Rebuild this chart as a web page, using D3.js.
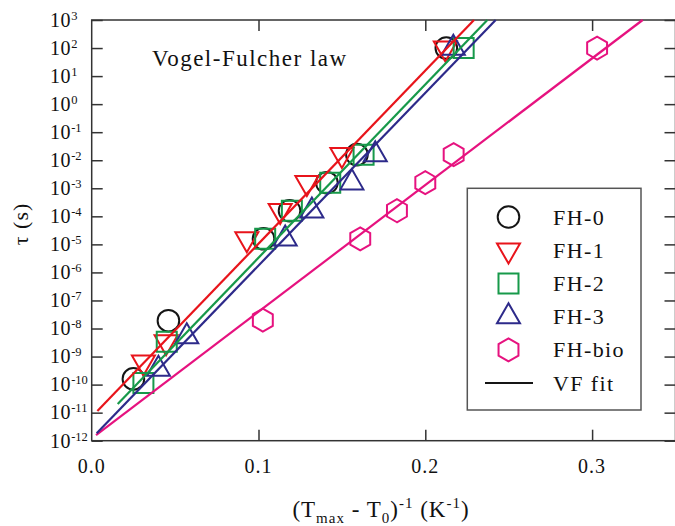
<!DOCTYPE html>
<html><head><meta charset="utf-8">
<script src="https://cdn.jsdelivr.net/npm/d3@7"></script>
<style>
body{margin:0;background:#fff;}
svg{display:block;font-family:"Liberation Serif","Times New Roman",serif;}
</style></head>
<body><svg id="c" width="675" height="526"></svg>
<script>
// ---- data ----
const seriesNames = ["FH-0", "FH-1", "FH-2", "FH-3", "FH-bio"];
const fh0X   = [0.0250, 0.0460, 0.1030, 0.1186, 0.1410, 0.1590, 0.2126];
const fh0Tau = [1.6e-10, 1.9e-8, 1.58e-5, 1.58e-4, 1.58e-3, 1.58e-2, 100];
const fh1X   = [0.0310, 0.0446, 0.0930, 0.1130, 0.1290, 0.1500, 0.2120];
const fh1Tau = [6.3e-10, 3.3e-9, 1.58e-5, 1.58e-4, 1.58e-3, 1.58e-2, 100];
const fh2X   = [0.0310, 0.0450, 0.1040, 0.1200, 0.1430, 0.1630, 0.2230];
const fh2Tau = [1.15e-10, 3.4e-9, 1.58e-5, 1.58e-4, 1.58e-3, 1.58e-2, 100];
const fh3X   = [0.0400, 0.0570, 0.1160, 0.1320, 0.1560, 0.1700, 0.2168];
const fh3Tau = [3.6e-10, 5.2e-9, 1.58e-5, 1.58e-4, 1.58e-3, 1.58e-2, 100];
const bioX   = [0.1026, 0.1610, 0.1830, 0.2000, 0.2170, 0.3030];
const bioTau = [2.0e-8, 1.58e-5, 1.58e-4, 1.58e-3, 1.58e-2, 100];
// VF fit lines: [x, tau] endpoints
const fitFH1 = [[0.0034, 1.15e-11], [0.2292, 1e3]];
const fitFH2 = [[0.0156, 2.04e-11], [0.2372, 1e3]];
const fitFH3 = [[0.0030, 1.86e-12], [0.2422, 1e3]];
const fitBio = [[0.0026, 1.58e-12], [0.3303, 1e3]];
const xTicks = [0.0, 0.1, 0.2, 0.3];
const yExponents = [3,2,1,0,-1,-2,-3,-4,-5,-6,-7,-8,-9,-10,-11,-12];
const colors = ["#151515", "#e8141b", "#17994a", "#2d2a8a", "#e6127f"];
const shapes = ["circle", "triDown", "square", "triUp", "hexagon"];

// ---- layout ----
const L = 91.7, R = 675.5, T = 20, B = 440.7;
const svg = d3.select("#c");
const x = d3.scaleLinear().domain([0, 0.35]).range([L, R]);
const y = d3.scaleLog().domain([1e-12, 1e3]).range([B, T]);

function shapePath(kind) {
  const p = d3.path();
  if (kind === "circle") { p.arc(0, 0, 10.8, 0, 2 * Math.PI); }
  else if (kind === "square") { p.rect(-10, -10, 20, 20); }
  else if (kind === "triDown") { const w = 11.5, h = 20; p.moveTo(-w, -h/3); p.lineTo(w, -h/3); p.lineTo(0, 2*h/3); p.closePath(); }
  else if (kind === "triUp") { const w = 11.5, h = 20; p.moveTo(-w, h/3); p.lineTo(w, h/3); p.lineTo(0, -2*h/3); p.closePath(); }
  else if (kind === "hexagon") {
    const r = 11.5;
    for (let i = 0; i < 6; i++) { const a = Math.PI/2 + i*Math.PI/3; const px = r*Math.cos(a), py = r*Math.sin(a); if (i===0) p.moveTo(px,py); else p.lineTo(px,py); }
    p.closePath();
  }
  return p.toString();
}

// frame
svg.append("rect").attr("x", L).attr("y", T).attr("width", R - L).attr("height", B - T)
  .attr("fill", "none").attr("stroke", "#333").attr("stroke-width", 1.5);

// axes ticks (inward)
const tickStyle = g => { g.select(".domain").remove(); g.selectAll("line").attr("stroke", "#333").attr("stroke-width", 1.5); };
const decades = yExponents.map(e => Math.pow(10, e));
svg.append("g").attr("transform", `translate(${L},0)`).call(d3.axisLeft(y).tickValues(decades).tickSizeInner(-11).tickSizeOuter(0).tickFormat("")).call(tickStyle);
svg.append("g").attr("transform", `translate(${R},0)`).call(d3.axisRight(y).tickValues(decades).tickSizeInner(-11).tickSizeOuter(0).tickFormat("")).call(tickStyle);
svg.append("g").attr("transform", `translate(0,${B})`).call(d3.axisBottom(x).tickValues(xTicks.slice(1)).tickSizeInner(-11).tickSizeOuter(0).tickFormat("")).call(tickStyle);
svg.append("g").attr("transform", `translate(0,${T})`).call(d3.axisTop(x).tickValues(xTicks.slice(1)).tickSizeInner(-11).tickSizeOuter(0).tickFormat("")).call(tickStyle);

// y labels
yExponents.forEach(e => {
  const t = svg.append("text").attr("x", 50).attr("y", y(Math.pow(10, e)) + 6.8)
    .attr("font-size", 20).attr("fill", "#111").attr("letter-spacing", 0.6);
  t.append("tspan").text("10");
  t.append("tspan").attr("font-size", 12.5).attr("dy", -7).attr("letter-spacing", 0).text(String(e));
});
// x labels
xTicks.forEach(v => {
  svg.append("text").attr("x", x(v)).attr("y", 473).attr("text-anchor", "middle")
    .attr("font-size", 20).attr("letter-spacing", 1).attr("fill", "#111").text(d3.format(".1f")(v));
});

// axis titles
const xl = svg.append("text").attr("x", 381).attr("y", 516.5).attr("text-anchor", "middle")
  .attr("font-size", 23).attr("letter-spacing", 1).attr("fill", "#111");
xl.append("tspan").text("(T");
xl.append("tspan").attr("font-size", 15).attr("dy", 6).text("max");
xl.append("tspan").attr("dy", -6).text(" - T");
xl.append("tspan").attr("font-size", 15).attr("dy", 6).text("0");
xl.append("tspan").attr("dy", -6).text(")");
xl.append("tspan").attr("font-size", 15).attr("dy", -9).text("-1");
xl.append("tspan").attr("dy", 9).text(" (K");
xl.append("tspan").attr("font-size", 15).attr("dy", -9).text("-1");
xl.append("tspan").attr("dy", 9).text(")");

svg.append("text").attr("transform", "translate(28,224) rotate(-90)").attr("text-anchor", "middle")
  .attr("font-size", 22).attr("fill", "#111").attr("letter-spacing", 1).text("τ (s)");

svg.append("text").attr("x", 152).attr("y", 66).attr("font-size", 23).attr("letter-spacing", 1.5)
  .attr("fill", "#111").text("Vogel-Fulcher law");

// markers
const series = [[fh0X, fh0Tau], [fh1X, fh1Tau], [fh2X, fh2Tau], [fh3X, fh3Tau], [bioX, bioTau]];
series.forEach(([xs, ts], i) => {
  svg.append("g").selectAll("path").data(xs.map((v, k) => [v, ts[k]])).join("path")
    .attr("transform", d => `translate(${x(d[0])},${y(d[1])})`)
    .attr("d", shapePath(shapes[i])).attr("fill", "none")
    .attr("stroke", colors[i]).attr("stroke-width", 2);
});

// fit lines
const line = d3.line().x(d => x(d[0])).y(d => y(d[1]));
[[fitBio, 4], [fitFH3, 3], [fitFH2, 2], [fitFH1, 1]].forEach(([f, ci]) => {
  svg.append("path").attr("d", line(f)).attr("fill", "none").attr("stroke", colors[ci]).attr("stroke-width", 2.2);
});

// legend
svg.append("rect").attr("x", 467.3).attr("y", 188.3).attr("width", 173.7).attr("height", 221.7)
  .attr("fill", "#fff").attr("stroke", "#555").attr("stroke-width", 1.5);
const legNames = seriesNames.concat(["VF fit"]);
legNames.forEach((n, i) => {
  const ly = 217 + i * 33.2;
  if (i < 5) {
    svg.append("path").attr("transform", `translate(508.5,${ly})`).attr("d", shapePath(shapes[i]))
      .attr("fill", "none").attr("stroke", colors[i]).attr("stroke-width", 2);
  } else {
    svg.append("line").attr("x1", 485).attr("x2", 533).attr("y1", ly).attr("y2", ly)
      .attr("stroke", "#151515").attr("stroke-width", 2.2);
  }
  svg.append("text").attr("x", 553).attr("y", ly + 7.6).attr("font-size", 22).attr("letter-spacing", 1.4)
    .attr("fill", "#111").text(n);
});
</script></body></html>
